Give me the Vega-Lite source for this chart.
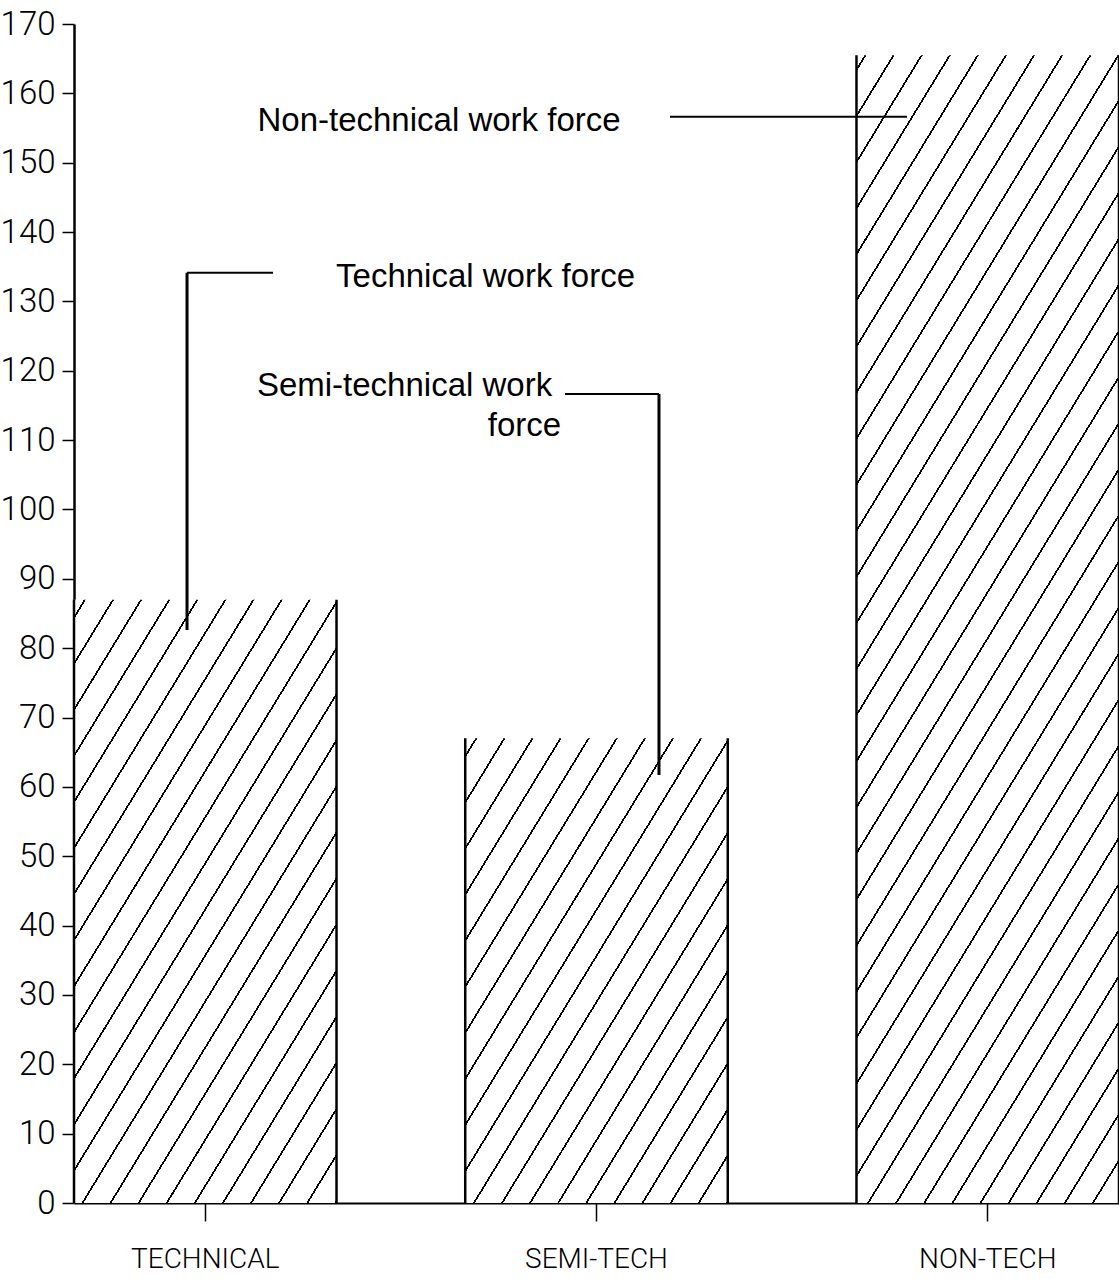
{
  "$schema": "https://vega.github.io/schema/vega-lite/v6.json",
  "width": 1045,
  "height": 1179,
  "autosize": {"type": "none"},
  "padding": {"left": 74, "top": 24, "right": 0, "bottom": 76},
  "background": "white",
  "config": {"view": {"stroke": null}},
  "datasets": {
    "bars": [
      {"category": "TECHNICAL", "workforce": 87},
      {"category": "SEMI-TECH", "workforce": 67},
      {"category": "NON-TECH", "workforce": 165.5}
    ],
    "leaders": [
      {"x0": 1.1879, "x1": 1.7936, "y0": 156.63, "y1": 156.63},
      {"x0": -0.0466, "x1": 0.1732, "y0": 134.14, "y1": 134.14},
      {"x0": -0.0466, "x1": -0.0466, "y0": 134.14, "y1": 82.62},
      {"x0": 0.9195, "x1": 1.1597, "y0": 116.65, "y1": 116.65},
      {"x0": 1.1597, "x1": 1.1597, "y0": 116.65, "y1": 61.71}
    ],
    "labels": [
      {"x": 0.5975, "y": 154.6, "text": "Non-technical work force"},
      {"x": 0.7163, "y": 132.1, "text": "Technical work force"},
      {"x": 0.5093, "y": 116.4, "text": "Semi-technical work"},
      {"x": 0.816, "y": 110.6, "text": "force"}
    ]
  },
  "layer": [
    {
      "data": {"name": "bars"},
      "layer": [
        {
          "mark": {"type": "bar"},
          "encoding": {
            "x": {
              "field": "category", "type": "nominal", "sort": null,
              "scale": {"paddingInner": 0.329, "paddingOuter": 0},
              "axis": {
                "title": null, "labelAngle": 0, "domainColor": "#000", "domainWidth": 2,
                "tickColor": "#000", "tickWidth": 1.5, "tickSize": 18,
                "labelFont": "Roboto", "labelFontWeight": 300, "labelFontSize": 28, "labelColor": "#000",
                "labelPadding": 24, "labelLimit": 400, "grid": false
              }
            },
            "y": {
              "field": "workforce", "type": "quantitative",
              "scale": {"domain": [0, 170], "nice": false},
              "axis": {
                "title": null, "values": [0,10,20,30,40,50,60,70,80,90,100,110,120,130,140,150,160,170],
                "domainColor": "#000", "domainWidth": 2.5, "tickColor": "#000", "tickWidth": 1.5,
                "tickSize": 12, "labelFont": "Roboto", "labelFontWeight": 300, "labelFontSize": 33,
                "labelColor": "#000", "labelPadding": 7, "labelFlush": false, "labelOverlap": false, "grid": false
              }
            },
            "fill": {
              "condition": [
                {"test": "datum.category === 'TECHNICAL'", "value": {"gradient": "linear", "x1": 0, "y1": 0, "x2": 0.81015, "y2": 1.13545, "stops": [
                  {"offset":0,"color":"#fff"},
                  {"offset":0.01586,"color":"#fff"},{"offset":0.01586,"color":"#000"},{"offset":0.01904,"color":"#000"},{"offset":0.01904,"color":"#fff"},
                  {"offset":0.06044,"color":"#fff"},{"offset":0.06044,"color":"#000"},{"offset":0.06361,"color":"#000"},{"offset":0.06361,"color":"#fff"},
                  {"offset":0.10501,"color":"#fff"},{"offset":0.10501,"color":"#000"},{"offset":0.10819,"color":"#000"},{"offset":0.10819,"color":"#fff"},
                  {"offset":0.14959,"color":"#fff"},{"offset":0.14959,"color":"#000"},{"offset":0.15276,"color":"#000"},{"offset":0.15276,"color":"#fff"},
                  {"offset":0.19416,"color":"#fff"},{"offset":0.19416,"color":"#000"},{"offset":0.19734,"color":"#000"},{"offset":0.19734,"color":"#fff"},
                  {"offset":0.23874,"color":"#fff"},{"offset":0.23874,"color":"#000"},{"offset":0.24191,"color":"#000"},{"offset":0.24191,"color":"#fff"},
                  {"offset":0.28331,"color":"#fff"},{"offset":0.28331,"color":"#000"},{"offset":0.28649,"color":"#000"},{"offset":0.28649,"color":"#fff"},
                  {"offset":0.32789,"color":"#fff"},{"offset":0.32789,"color":"#000"},{"offset":0.33106,"color":"#000"},{"offset":0.33106,"color":"#fff"},
                  {"offset":0.37246,"color":"#fff"},{"offset":0.37246,"color":"#000"},{"offset":0.37564,"color":"#000"},{"offset":0.37564,"color":"#fff"},
                  {"offset":0.41704,"color":"#fff"},{"offset":0.41704,"color":"#000"},{"offset":0.42021,"color":"#000"},{"offset":0.42021,"color":"#fff"},
                  {"offset":0.46161,"color":"#fff"},{"offset":0.46161,"color":"#000"},{"offset":0.46479,"color":"#000"},{"offset":0.46479,"color":"#fff"},
                  {"offset":0.50619,"color":"#fff"},{"offset":0.50619,"color":"#000"},{"offset":0.50936,"color":"#000"},{"offset":0.50936,"color":"#fff"},
                  {"offset":0.55076,"color":"#fff"},{"offset":0.55076,"color":"#000"},{"offset":0.55394,"color":"#000"},{"offset":0.55394,"color":"#fff"},
                  {"offset":0.59534,"color":"#fff"},{"offset":0.59534,"color":"#000"},{"offset":0.59851,"color":"#000"},{"offset":0.59851,"color":"#fff"},
                  {"offset":0.63991,"color":"#fff"},{"offset":0.63991,"color":"#000"},{"offset":0.64309,"color":"#000"},{"offset":0.64309,"color":"#fff"},
                  {"offset":0.68449,"color":"#fff"},{"offset":0.68449,"color":"#000"},{"offset":0.68766,"color":"#000"},{"offset":0.68766,"color":"#fff"},
                  {"offset":0.72906,"color":"#fff"},{"offset":0.72906,"color":"#000"},{"offset":0.73224,"color":"#000"},{"offset":0.73224,"color":"#fff"},
                  {"offset":0.77364,"color":"#fff"},{"offset":0.77364,"color":"#000"},{"offset":0.77681,"color":"#000"},{"offset":0.77681,"color":"#fff"},
                  {"offset":0.81821,"color":"#fff"},{"offset":0.81821,"color":"#000"},{"offset":0.82139,"color":"#000"},{"offset":0.82139,"color":"#fff"},
                  {"offset":0.86279,"color":"#fff"},{"offset":0.86279,"color":"#000"},{"offset":0.86596,"color":"#000"},{"offset":0.86596,"color":"#fff"},
                  {"offset":0.90736,"color":"#fff"},{"offset":0.90736,"color":"#000"},{"offset":0.91054,"color":"#000"},{"offset":0.91054,"color":"#fff"},
                  {"offset":0.95194,"color":"#fff"},{"offset":0.95194,"color":"#000"},{"offset":0.95511,"color":"#000"},{"offset":0.95511,"color":"#fff"},
                  {"offset":0.99651,"color":"#fff"},{"offset":0.99651,"color":"#000"},{"offset":0.99968,"color":"#000"},{"offset":0.99968,"color":"#fff"},
                  {"offset":1,"color":"#fff"}
                ]}},
                {"test": "datum.category === 'SEMI-TECH'", "value": {"gradient": "linear", "x1": 0, "y1": 0, "x2": 0.9604, "y2": 1.03669, "stops": [
                  {"offset":0,"color":"#fff"},
                  {"offset":0.01832,"color":"#fff"},{"offset":0.01832,"color":"#000"},{"offset":0.02198,"color":"#000"},{"offset":0.02198,"color":"#fff"},
                  {"offset":0.0698,"color":"#fff"},{"offset":0.0698,"color":"#000"},{"offset":0.07346,"color":"#000"},{"offset":0.07346,"color":"#fff"},
                  {"offset":0.12128,"color":"#fff"},{"offset":0.12128,"color":"#000"},{"offset":0.12494,"color":"#000"},{"offset":0.12494,"color":"#fff"},
                  {"offset":0.17276,"color":"#fff"},{"offset":0.17276,"color":"#000"},{"offset":0.17642,"color":"#000"},{"offset":0.17642,"color":"#fff"},
                  {"offset":0.22424,"color":"#fff"},{"offset":0.22424,"color":"#000"},{"offset":0.2279,"color":"#000"},{"offset":0.2279,"color":"#fff"},
                  {"offset":0.27572,"color":"#fff"},{"offset":0.27572,"color":"#000"},{"offset":0.27938,"color":"#000"},{"offset":0.27938,"color":"#fff"},
                  {"offset":0.32719,"color":"#fff"},{"offset":0.32719,"color":"#000"},{"offset":0.33086,"color":"#000"},{"offset":0.33086,"color":"#fff"},
                  {"offset":0.37867,"color":"#fff"},{"offset":0.37867,"color":"#000"},{"offset":0.38234,"color":"#000"},{"offset":0.38234,"color":"#fff"},
                  {"offset":0.43015,"color":"#fff"},{"offset":0.43015,"color":"#000"},{"offset":0.43382,"color":"#000"},{"offset":0.43382,"color":"#fff"},
                  {"offset":0.48163,"color":"#fff"},{"offset":0.48163,"color":"#000"},{"offset":0.48529,"color":"#000"},{"offset":0.48529,"color":"#fff"},
                  {"offset":0.53311,"color":"#fff"},{"offset":0.53311,"color":"#000"},{"offset":0.53677,"color":"#000"},{"offset":0.53677,"color":"#fff"},
                  {"offset":0.58459,"color":"#fff"},{"offset":0.58459,"color":"#000"},{"offset":0.58825,"color":"#000"},{"offset":0.58825,"color":"#fff"},
                  {"offset":0.63607,"color":"#fff"},{"offset":0.63607,"color":"#000"},{"offset":0.63973,"color":"#000"},{"offset":0.63973,"color":"#fff"},
                  {"offset":0.68755,"color":"#fff"},{"offset":0.68755,"color":"#000"},{"offset":0.69121,"color":"#000"},{"offset":0.69121,"color":"#fff"},
                  {"offset":0.73903,"color":"#fff"},{"offset":0.73903,"color":"#000"},{"offset":0.74269,"color":"#000"},{"offset":0.74269,"color":"#fff"},
                  {"offset":0.79051,"color":"#fff"},{"offset":0.79051,"color":"#000"},{"offset":0.79417,"color":"#000"},{"offset":0.79417,"color":"#fff"},
                  {"offset":0.84198,"color":"#fff"},{"offset":0.84198,"color":"#000"},{"offset":0.84565,"color":"#000"},{"offset":0.84565,"color":"#fff"},
                  {"offset":0.89346,"color":"#fff"},{"offset":0.89346,"color":"#000"},{"offset":0.89713,"color":"#000"},{"offset":0.89713,"color":"#fff"},
                  {"offset":0.94494,"color":"#fff"},{"offset":0.94494,"color":"#000"},{"offset":0.94861,"color":"#000"},{"offset":0.94861,"color":"#fff"},
                  {"offset":0.99642,"color":"#fff"},{"offset":0.99642,"color":"#000"},{"offset":0.9999,"color":"#000"},{"offset":0.9999,"color":"#fff"},
                  {"offset":1,"color":"#fff"}
                ]}}
              ],
              "value": {"gradient": "linear", "x1": 0, "y1": 0, "x2": 0.45214, "y2": 1.20549, "stops": [
                {"offset":0,"color":"#fff"},
                {"offset":0.00831,"color":"#fff"},{"offset":0.00831,"color":"#000"},{"offset":0.01039,"color":"#000"},{"offset":0.01039,"color":"#fff"},
                {"offset":0.03751,"color":"#fff"},{"offset":0.03751,"color":"#000"},{"offset":0.03959,"color":"#000"},{"offset":0.03959,"color":"#fff"},
                {"offset":0.06671,"color":"#fff"},{"offset":0.06671,"color":"#000"},{"offset":0.06879,"color":"#000"},{"offset":0.06879,"color":"#fff"},
                {"offset":0.09591,"color":"#fff"},{"offset":0.09591,"color":"#000"},{"offset":0.09798,"color":"#000"},{"offset":0.09798,"color":"#fff"},
                {"offset":0.1251,"color":"#fff"},{"offset":0.1251,"color":"#000"},{"offset":0.12718,"color":"#000"},{"offset":0.12718,"color":"#fff"},
                {"offset":0.1543,"color":"#fff"},{"offset":0.1543,"color":"#000"},{"offset":0.15638,"color":"#000"},{"offset":0.15638,"color":"#fff"},
                {"offset":0.1835,"color":"#fff"},{"offset":0.1835,"color":"#000"},{"offset":0.18558,"color":"#000"},{"offset":0.18558,"color":"#fff"},
                {"offset":0.2127,"color":"#fff"},{"offset":0.2127,"color":"#000"},{"offset":0.21478,"color":"#000"},{"offset":0.21478,"color":"#fff"},
                {"offset":0.2419,"color":"#fff"},{"offset":0.2419,"color":"#000"},{"offset":0.24397,"color":"#000"},{"offset":0.24397,"color":"#fff"},
                {"offset":0.27109,"color":"#fff"},{"offset":0.27109,"color":"#000"},{"offset":0.27317,"color":"#000"},{"offset":0.27317,"color":"#fff"},
                {"offset":0.30029,"color":"#fff"},{"offset":0.30029,"color":"#000"},{"offset":0.30237,"color":"#000"},{"offset":0.30237,"color":"#fff"},
                {"offset":0.32949,"color":"#fff"},{"offset":0.32949,"color":"#000"},{"offset":0.33157,"color":"#000"},{"offset":0.33157,"color":"#fff"},
                {"offset":0.35869,"color":"#fff"},{"offset":0.35869,"color":"#000"},{"offset":0.36076,"color":"#000"},{"offset":0.36076,"color":"#fff"},
                {"offset":0.38788,"color":"#fff"},{"offset":0.38788,"color":"#000"},{"offset":0.38996,"color":"#000"},{"offset":0.38996,"color":"#fff"},
                {"offset":0.41708,"color":"#fff"},{"offset":0.41708,"color":"#000"},{"offset":0.41916,"color":"#000"},{"offset":0.41916,"color":"#fff"},
                {"offset":0.44628,"color":"#fff"},{"offset":0.44628,"color":"#000"},{"offset":0.44836,"color":"#000"},{"offset":0.44836,"color":"#fff"},
                {"offset":0.47548,"color":"#fff"},{"offset":0.47548,"color":"#000"},{"offset":0.47756,"color":"#000"},{"offset":0.47756,"color":"#fff"},
                {"offset":0.50468,"color":"#fff"},{"offset":0.50468,"color":"#000"},{"offset":0.50675,"color":"#000"},{"offset":0.50675,"color":"#fff"},
                {"offset":0.53387,"color":"#fff"},{"offset":0.53387,"color":"#000"},{"offset":0.53595,"color":"#000"},{"offset":0.53595,"color":"#fff"},
                {"offset":0.56307,"color":"#fff"},{"offset":0.56307,"color":"#000"},{"offset":0.56515,"color":"#000"},{"offset":0.56515,"color":"#fff"},
                {"offset":0.59227,"color":"#fff"},{"offset":0.59227,"color":"#000"},{"offset":0.59435,"color":"#000"},{"offset":0.59435,"color":"#fff"},
                {"offset":0.62147,"color":"#fff"},{"offset":0.62147,"color":"#000"},{"offset":0.62354,"color":"#000"},{"offset":0.62354,"color":"#fff"},
                {"offset":0.65066,"color":"#fff"},{"offset":0.65066,"color":"#000"},{"offset":0.65274,"color":"#000"},{"offset":0.65274,"color":"#fff"},
                {"offset":0.67986,"color":"#fff"},{"offset":0.67986,"color":"#000"},{"offset":0.68194,"color":"#000"},{"offset":0.68194,"color":"#fff"},
                {"offset":0.70906,"color":"#fff"},{"offset":0.70906,"color":"#000"},{"offset":0.71114,"color":"#000"},{"offset":0.71114,"color":"#fff"},
                {"offset":0.73826,"color":"#fff"},{"offset":0.73826,"color":"#000"},{"offset":0.74034,"color":"#000"},{"offset":0.74034,"color":"#fff"},
                {"offset":0.76746,"color":"#fff"},{"offset":0.76746,"color":"#000"},{"offset":0.76953,"color":"#000"},{"offset":0.76953,"color":"#fff"},
                {"offset":0.79665,"color":"#fff"},{"offset":0.79665,"color":"#000"},{"offset":0.79873,"color":"#000"},{"offset":0.79873,"color":"#fff"},
                {"offset":0.82585,"color":"#fff"},{"offset":0.82585,"color":"#000"},{"offset":0.82793,"color":"#000"},{"offset":0.82793,"color":"#fff"},
                {"offset":0.85505,"color":"#fff"},{"offset":0.85505,"color":"#000"},{"offset":0.85713,"color":"#000"},{"offset":0.85713,"color":"#fff"},
                {"offset":0.88425,"color":"#fff"},{"offset":0.88425,"color":"#000"},{"offset":0.88632,"color":"#000"},{"offset":0.88632,"color":"#fff"},
                {"offset":0.91344,"color":"#fff"},{"offset":0.91344,"color":"#000"},{"offset":0.91552,"color":"#000"},{"offset":0.91552,"color":"#fff"},
                {"offset":0.94264,"color":"#fff"},{"offset":0.94264,"color":"#000"},{"offset":0.94472,"color":"#000"},{"offset":0.94472,"color":"#fff"},
                {"offset":0.97184,"color":"#fff"},{"offset":0.97184,"color":"#000"},{"offset":0.97392,"color":"#000"},{"offset":0.97392,"color":"#fff"},
                {"offset":1,"color":"#fff"}
              ]}
            }
          }
        },
        {
          "mark": {"type": "rule", "color": "#000", "strokeWidth": 2.5},
          "encoding": {
            "x": {"field": "category", "type": "nominal", "sort": null, "bandPosition": 0},
            "y": {"field": "workforce", "type": "quantitative"},
            "y2": {"datum": 0}
          }
        },
        {
          "mark": {"type": "rule", "color": "#000", "strokeWidth": 2.5},
          "encoding": {
            "x": {"field": "category", "type": "nominal", "sort": null, "bandPosition": 1},
            "y": {"field": "workforce", "type": "quantitative"},
            "y2": {"datum": 0}
          }
        }
      ]
    },
    {
      "data": {"name": "leaders"},
      "mark": {"type": "rule", "color": "#000"},
      "encoding": {
        "x": {"field": "x0", "type": "quantitative", "scale": {"domain": [-0.3355, 2.3355], "nice": false, "zero": false}, "axis": null},
        "x2": {"field": "x1"},
        "y": {"field": "y0", "type": "quantitative", "scale": {"domain": [0, 170], "nice": false}, "axis": null},
        "y2": {"field": "y1"},
        "strokeWidth": {"condition": {"test": "datum.x0 === datum.x1", "value": 3}, "value": 2}
      }
    },
    {
      "data": {"name": "labels"},
      "mark": {"type": "text", "align": "center", "baseline": "alphabetic", "font": "Liberation Sans", "fontSize": 33, "color": "#000"},
      "encoding": {
        "x": {"field": "x", "type": "quantitative", "scale": {"domain": [-0.3355, 2.3355], "nice": false, "zero": false}, "axis": null},
        "y": {"field": "y", "type": "quantitative", "scale": {"domain": [0, 170], "nice": false}, "axis": null},
        "text": {"field": "text"}
      }
    }
  ],
  "resolve": {"scale": {"x": "independent", "y": "independent"}}
}
